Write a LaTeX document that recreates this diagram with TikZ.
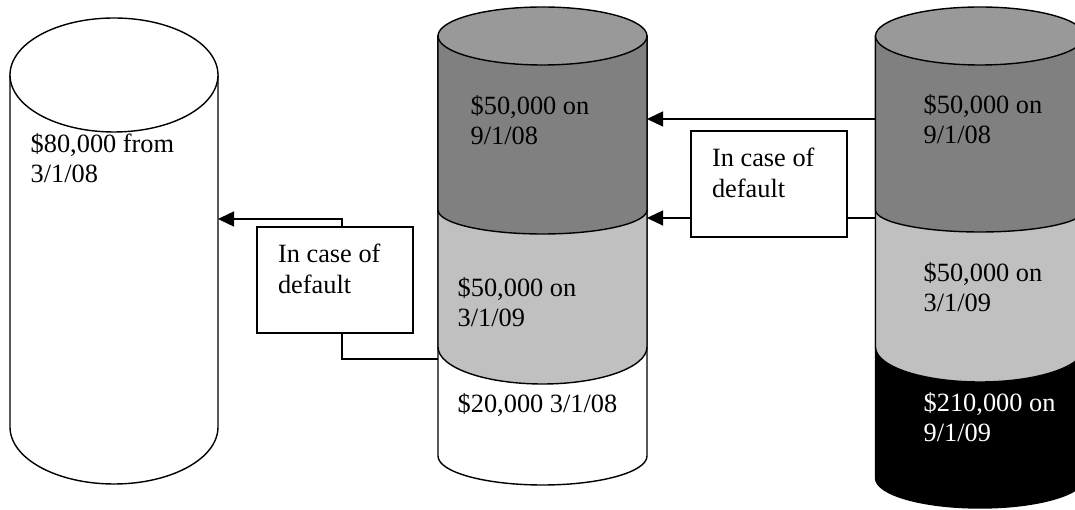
\documentclass[tikz,border=0pt]{standalone}
\usepackage{fontspec}
\setmainfont{Liberation Serif}
\usetikzlibrary{arrows.meta}
\definecolor{capgray}{HTML}{999999}
\definecolor{darkband}{HTML}{808080}
\definecolor{lightband}{HTML}{C0C0C0}
% #1 x centre, #2 x radius, #3 top y, #4 bottom y, #5 bottom y radius, #6 fill
\newcommand{\canband}[6]{%
  \filldraw[fill=#6] (#1-#2,#3) -- (#1-#2,#4)
    arc[start angle=180, end angle=360, x radius=#2, y radius=#5] -- (#1+#2,#3) -- cycle;}
% #1 x centre, #2 y centre, #3 x radius, #4 y radius, #5 fill
\newcommand{\cancap}[5]{%
  \filldraw[fill=#5] (#1,#2) ellipse[x radius=#3, y radius=#4];}

\begin{document}
\begin{tikzpicture}[x=0.02cm, y=0.02cm, line width=0.8pt,
  every node/.style={font=\fontsize{15}{17.6}\selectfont},
  amount/.style={anchor=base west, align=left, inner sep=0},
  default/.style={draw, fill=white, inner xsep=0.42cm, inner ysep=0.34cm},
  pointer/.style={-{Triangle[length=0.32cm, width=0.3cm]}}]
\clip (0,0) rectangle (1075,510);

% left can
\canband{114}{104}{435}{83}{57}{white}
\cancap{114}{435}{104}{57}{white}

% middle can
\canband{542.5}{104.5}{474}{54}{29}{white}
\canband{542.5}{104.5}{474}{163}{37}{lightband}
\canband{542.5}{104.5}{474}{300}{24}{darkband}
\cancap{542.5}{474}{104.5}{29}{capgray}

% right can
\canband{980}{104.5}{474}{32}{30}{black}
\canband{980}{104.5}{474}{163}{35}{lightband}
\canband{980}{104.5}{474}{300}{22}{darkband}
\cancap{980}{474}{104.5}{29}{capgray}

% amounts (placed at the baseline of their last line)
\node[amount] (loan)    at (30,327)  {\$80,000 from\\3/1/08};
\node[amount] (mtop)    at (470,365) {\$50,000 on\\9/1/08};
\node[amount] (mmid)    at (457,183) {\$50,000 on\\3/1/09};
\node[amount] (mlow)    at (457,97)  {\$20,000 3/1/08};
\node[amount] (rtop)    at (923,366) {\$50,000 on\\9/1/08};
\node[amount] (rmid)    at (923,198) {\$50,000 on\\3/1/09};
\node[amount, text=white] (rlow) at (923,68) {\$210,000 on\\9/1/09};

% ends of the connectors on the cans
\coordinate (lftR)  at (218,291);
\coordinate (midL)  at (438,151);
\coordinate (midR1) at (647,391);
\coordinate (midR2) at (647,292);
\coordinate (rgtL1) at (875.5,391);
\coordinate (rgtL2) at (875.5,292);

\node[default] (dflt1) at (335,230) {\parbox[c][1.44cm][t]{2.28cm}{In case of\\default}};
\node[default] (dflt2) at (769,326) {\parbox[c][1.44cm][t]{2.28cm}{In case of\\default}};

% Edges
\draw (midL) -| ([xshift=0.14cm]dflt1.south);
\draw[pointer] ([xshift=0.14cm]dflt1.north) |- (lftR);
\draw[pointer] (rgtL1) -- (midR1);
\draw (rgtL2) -- (rgtL2 -| dflt2.east);
\draw[pointer] (rgtL2 -| dflt2.west) -- (midR2);
\end{tikzpicture}
\end{document}
